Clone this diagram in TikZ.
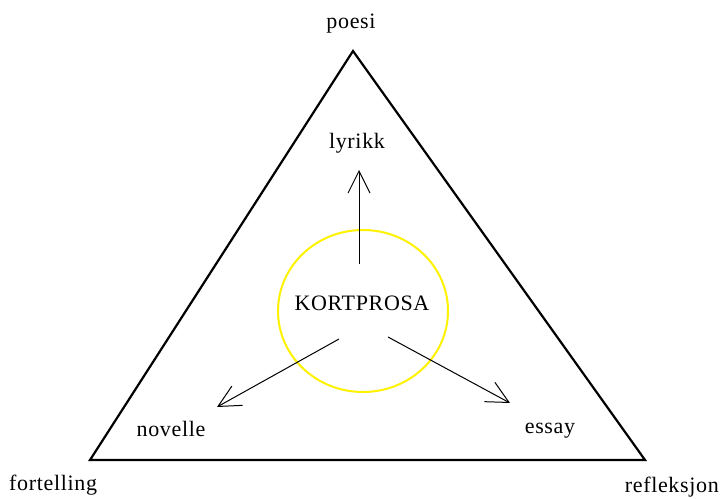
\documentclass[tikz,border=0pt]{standalone}
\usepackage{fontspec}
\setmainfont{Liberation Serif}[LetterSpace=3]
\usetikzlibrary{arrows.meta,shapes.geometric}
\begin{document}
\begin{tikzpicture}[x=1pt,y=-1pt,
  lbl/.style={font=\fontsize{22}{25}\selectfont, inner sep=0pt},
  arr/.style={line width=1pt, -{Straight Barb[length=22pt,width=22pt,line width=1pt]}}]
\useasboundingbox (0,0) rectangle (720,498);
\coordinate (top) at (353,51);
\coordinate (bl) at (90,460);
\coordinate (br) at (645,460);
\draw[line width=2.2pt, line join=miter] (top) -- (bl) -- (br) -- cycle;
\node[draw=yellow, line width=2pt, ellipse, minimum width=170pt, minimum height=162pt, inner sep=0pt] (circ) at (363,311) {};
\node[lbl] (kort) at (362,303) {KORTPROSA};
\node[lbl] (poesi) at (351,24) {poesi};
\node[lbl] (lyrikk) at (357,143) {lyrikk};
\node[lbl] (novelle) at (171,429) {novelle};
\node[lbl] (essay) at (550,431) {essay};
\node[lbl, anchor=west] (fortelling) at (9,485) {fortelling};
\node[lbl, anchor=east] (refleksjon) at (719,487) {refleksjon};
\coordinate (s1) at (359,264);
\coordinate (e1) at (359,170);
\coordinate (s2) at (339,339);
\coordinate (e2) at (217,407);
\coordinate (s3) at (388,337);
\coordinate (e3) at (510,403);
\draw[arr] (s1) -- (e1);
\draw[arr] (s2) -- (e2);
\draw[arr] (s3) -- (e3);
\end{tikzpicture}
\end{document}
